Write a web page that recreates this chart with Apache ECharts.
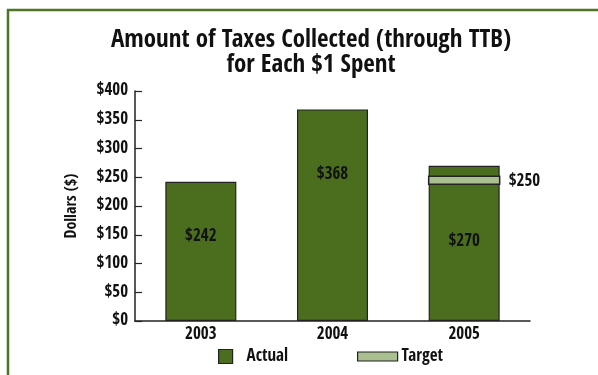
<!DOCTYPE html>
<html><head><meta charset="utf-8">
<script src="https://cdn.jsdelivr.net/npm/echarts@6/dist/echarts.min.js"></script>
<style>html,body{margin:0;padding:0;background:#fff}#c{width:598px;height:375px}</style>
</head><body><div id="c"></div>
<script>
const categories = ['2003', '2004', '2005'];
const actualValues = [242, 368, 270];
const targetValues = [null, null, 250];
const yTicks = { min: 0, max: 400, interval: 50 };

const FONT = '"Open Sans Condensed", "Roboto Condensed", "Liberation Sans", sans-serif';
const DARK = '#4b6e1e';
const LIGHT = '#a9bf8f';
const labelOffsets = [41, 52, 62];

function draw() {
const chart = echarts.init(document.getElementById('c'));
chart.setOption({
  animation: false,
  backgroundColor: '#fff',
  graphic: [{
    type: 'rect', shape: { x: 8, y: 10, width: 700, height: 500 },
    style: { fill: 'none', stroke: '#4c7622', lineWidth: 2.5 }, silent: true
  }],
  title: {
    text: 'Amount of Taxes Collected (through TTB)\nfor Each $1 Spent',
    left: 306, top: 23, textAlign: 'center',
    textStyle: { fontFamily: FONT, fontWeight: 'bold', fontSize: 25, lineHeight: 25, color: '#111' }
  },
  legend: [{
    data: ['Actual'], left: 213, top: 343, itemWidth: 14, itemHeight: 14,
    icon: 'rect', itemStyle: { borderColor: '#222', borderWidth: 1.2 },
    textStyle: { fontFamily: FONT, fontWeight: 'bold', fontSize: 17, color: '#111', padding: [0, 0, 0, 9] }
  }, {
    data: ['Target'], left: 352, top: 343, itemWidth: 40, itemHeight: 9,
    icon: 'rect', itemStyle: { borderColor: '#222', borderWidth: 1.2 },
    textStyle: { fontFamily: FONT, fontWeight: 'bold', fontSize: 17, color: '#111', padding: [0, 0, 0, -1] }
  }],
  grid: { left: 135, right: 68, top: 91, bottom: 54 },
  xAxis: {
    type: 'category', data: categories,
    axisLine: { lineStyle: { color: '#222', width: 1.5 } },
    axisTick: { inside: true, length: 6, lineStyle: { color: '#222', width: 1.2 } },
    axisLabel: { fontFamily: FONT, fontWeight: 'bold', fontSize: 17, color: '#111', margin: 5 }
  },
  yAxis: {
    type: 'value', min: yTicks.min, max: yTicks.max, interval: yTicks.interval,
    name: 'Dollars ($)', nameLocation: 'middle', nameGap: 55, nameRotate: 90,
    nameTextStyle: { fontFamily: FONT, fontWeight: 'bold', fontSize: 16, color: '#111' },
    splitLine: { show: false },
    axisLine: { show: true, lineStyle: { color: '#222', width: 1.5 } },
    axisTick: { show: true, inside: true, length: 7, lineStyle: { color: '#222', width: 1.2 } },
    axisLabel: { fontFamily: FONT, fontWeight: 'bold', fontSize: 17, color: '#111', margin: 7,
      formatter: v => '$' + v }
  },
  series: [{
    name: 'Actual', type: 'bar', barWidth: 71,
    itemStyle: { color: DARK, borderColor: '#222', borderWidth: 1.2 },
    data: actualValues.map((v, i) => ({
      value: v,
      label: { show: true, position: 'insideTop', offset: [0, labelOffsets[i]],
        formatter: p => '$' + p.value,
        fontFamily: FONT, fontWeight: 'bold', fontSize: 17, color: '#111' }
    }))
  }, {
    name: 'Target', type: 'custom',
    itemStyle: { color: LIGHT, borderColor: '#222' },
    data: targetValues.map((v, i) => v == null ? null : [i, v]).filter(d => d),
    renderItem: function (params, api) {
      const c = api.coord([api.value(0), api.value(1)]);
      const w = 71;
      return {
        type: 'group', children: [{
          type: 'rect', shape: { x: c[0] - w / 2, y: c[1] - 1, width: w, height: 8 },
          style: { fill: LIGHT, stroke: '#222', lineWidth: 1.5 }
        }, {
          type: 'text', x: c[0] + w / 2 + 9, y: c[1] + 4,
          style: { text: '$' + api.value(1), fontFamily: FONT, fontWeight: 'bold', fontSize: 17,
            fill: '#111', verticalAlign: 'middle', align: 'left' }
        }]
      };
    },
    z: 3
  }]
});
}
if (document.fonts && document.fonts.load) {
  Promise.all([document.fonts.load('bold 17px "Open Sans Condensed"')]).then(draw, draw);
} else { draw(); }
</script></body></html>
